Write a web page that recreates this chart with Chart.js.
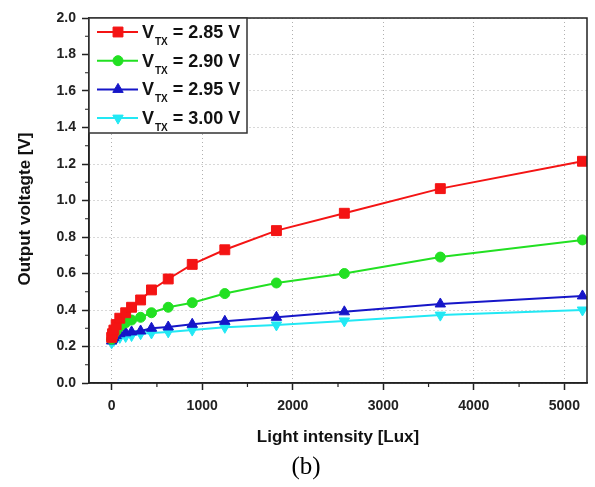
<!DOCTYPE html>
<html><head><meta charset="utf-8">
<script src="https://cdn.jsdelivr.net/npm/chart.js@4/dist/chart.umd.min.js"></script>
<style>html,body{margin:0;padding:0;background:#fff;}#wrap{width:595px;height:487px;}</style>
</head><body><div id="wrap"><canvas id="c" width="595" height="487"></canvas></div>
<script>
// ---- data ----
const lux   = [0, 10, 25, 50, 90, 155, 220, 320, 440, 625, 890, 1250, 1820, 2570, 3630, 5200];
const v285  = [0.25, 0.27, 0.29, 0.32, 0.355, 0.385, 0.415, 0.455, 0.51, 0.57, 0.65, 0.73, 0.835, 0.93, 1.065, 1.215];
const v290  = [0.24, 0.255, 0.27, 0.285, 0.31, 0.33, 0.345, 0.36, 0.385, 0.415, 0.44, 0.49, 0.548, 0.60, 0.69, 0.784];
const v295  = [0.23, 0.24, 0.25, 0.26, 0.27, 0.275, 0.28, 0.285, 0.30, 0.307, 0.322, 0.338, 0.36, 0.39, 0.433, 0.477];
const v300  = [0.22, 0.23, 0.235, 0.245, 0.25, 0.255, 0.26, 0.27, 0.274, 0.28, 0.29, 0.305, 0.318, 0.34, 0.372, 0.40];
const seriesVtx = ['2.85', '2.90', '2.95', '3.00'];
const xTicks = [0, 1000, 2000, 3000, 4000, 5000];
const yTicks = [0.0, 0.2, 0.4, 0.6, 0.8, 1.0, 1.2, 1.4, 1.6, 1.8, 2.0];
const xMinor = [500, 1500, 2500, 3500, 4500];
const yMinor = [0.1, 0.3, 0.5, 0.7, 0.9, 1.1, 1.3, 1.5, 1.7, 1.9];
const xTitle = 'Light intensity [Lux]';
const yTitle = 'Output voltagte [V]';
const caption = '(b)';

const styles = [
  {color: '#f41414', pointStyle: 'rect', radius: 7, rotation: 0},
  {color: '#22e022', pointStyle: 'circle', radius: 5, rotation: 0},
  {color: '#1616c8', pointStyle: 'triangle', radius: 6, rotation: 0},
  {color: '#22e8f4', pointStyle: 'triangle', radius: 6, rotation: 180}
];
const allSeries = [v285, v290, v295, v300];
const FONT = '"Liberation Sans", Arial, sans-serif';

const datasets = allSeries.map((vals, i) => ({
  label: 'VTX = ' + seriesVtx[i] + ' V',
  data: lux.map((x, j) => ({x: x, y: vals[j]})),
  borderColor: styles[i].color,
  backgroundColor: styles[i].color,
  pointBackgroundColor: styles[i].color,
  pointBorderColor: styles[i].color,
  pointStyle: styles[i].pointStyle,
  pointRadius: styles[i].radius,
  pointRotation: styles[i].rotation,
  pointBorderWidth: 1,
  borderWidth: 2,
  tension: 0
}));

const extras = {
  id: 'extras',
  afterDatasetsDraw(chart) {
    const ctx = chart.ctx, a = chart.chartArea;
    const xs = chart.scales.x, ys = chart.scales.y;
    ctx.save();
    // frame
    ctx.strokeStyle = '#222'; ctx.lineWidth = 1.5;
    ctx.strokeRect(a.left, a.top, a.right - a.left, a.bottom - a.top);
    // minor ticks
    ctx.lineWidth = 1.2;
    ctx.beginPath();
    xMinor.forEach(v => { const p = xs.getPixelForValue(v); ctx.moveTo(p, a.bottom); ctx.lineTo(p, a.bottom + 4); });
    yMinor.forEach(v => { const p = ys.getPixelForValue(v); ctx.moveTo(a.left, p); ctx.lineTo(a.left - 4, p); });
    ctx.stroke();
    // y title
    ctx.save();
    ctx.translate(25, 209);
    ctx.rotate(-Math.PI / 2);
    ctx.fillStyle = '#111';
    ctx.font = 'bold 17px ' + FONT;
    ctx.textAlign = 'center'; ctx.textBaseline = 'middle';
    ctx.fillText(yTitle, 0, 0);
    ctx.restore();
    // legend
    const L = a.left, T = a.top, W = 158, H = 115;
    ctx.fillStyle = '#fff';
    ctx.fillRect(L, T, W, H);
    ctx.strokeStyle = '#333'; ctx.lineWidth = 1.5;
    ctx.strokeRect(L, T, W, H);
    for (let i = 0; i < 4; i++) {
      const cy = T + 14 + i * 28.7;
      const s = styles[i];
      ctx.strokeStyle = s.color; ctx.lineWidth = 2;
      ctx.beginPath(); ctx.moveTo(L + 8, cy); ctx.lineTo(L + 49, cy); ctx.stroke();
      ctx.fillStyle = s.color; ctx.lineWidth = 1;
      Chart.helpers.drawPoint(ctx, {pointStyle: s.pointStyle, radius: s.radius, rotation: s.rotation, borderWidth: 1}, L + 29, cy);
      ctx.fillStyle = '#111';
      ctx.textBaseline = 'alphabetic'; ctx.textAlign = 'left';
      let x = L + 53;
      ctx.font = 'bold 18px ' + FONT;
      ctx.fillText('V', x, cy + 6);
      x += ctx.measureText('V').width + 1;
      ctx.font = 'bold 10px ' + FONT;
      ctx.fillText('TX', x, cy + 13);
      x += ctx.measureText('TX').width;
      ctx.font = 'bold 18px ' + FONT;
      ctx.fillText(' = ' + seriesVtx[i] + ' V', x, cy + 6);
    }
    // caption
    ctx.fillStyle = '#000';
    ctx.font = '25px "Liberation Serif", "Times New Roman", serif';
    ctx.textAlign = 'center'; ctx.textBaseline = 'middle';
    ctx.fillText(caption, 306, 467);
    ctx.restore();
  }
};

new Chart(document.getElementById('c'), {
  type: 'line',
  data: {datasets},
  options: {
    responsive: false,
    animation: false,
    layout: {padding: {top: 18, right: 4, left: 0, bottom: 0}},
    plugins: {legend: {display: false}, tooltip: {enabled: false}},
    scales: {
      x: {
        type: 'linear', min: -250, max: 5250,
        afterBuildTicks: s => { s.ticks = xTicks.map(v => ({value: v})); },
        afterFit: s => { s.height = 104; },
        ticks: {color: '#222', font: {family: FONT, size: 14, weight: 'bold'}, padding: 8, callback: v => String(v), maxRotation: 0, autoSkip: false},
        grid: {color: '#b0b0b0', lineWidth: 1, tickColor: '#222', tickLength: 7, tickWidth: 1.5, tickBorderDash: [1, 0]},
        border: {display: true, color: '#222', width: 1.5, dash: [1, 3]},
        title: {display: true, text: xTitle, color: '#111', font: {family: FONT, size: 17, weight: 'bold'}, padding: {top: 0, bottom: 39}}
      },
      y: {
        type: 'linear', min: 0, max: 2,
        afterBuildTicks: s => { s.ticks = yTicks.map(v => ({value: v})); },
        afterFit: s => { s.width = 89; },
        ticks: {color: '#222', font: {family: FONT, size: 14, weight: 'bold'}, padding: 6, callback: v => Number(v).toFixed(1), autoSkip: false},
        grid: {color: '#b0b0b0', lineWidth: 1, tickColor: '#222', tickLength: 7, tickWidth: 1.5, tickBorderDash: [1, 0]},
        border: {display: true, color: '#222', width: 1.5, dash: [1, 3]},
        title: {display: false}
      }
    }
  },
  plugins: [extras]
});
</script></body></html>
